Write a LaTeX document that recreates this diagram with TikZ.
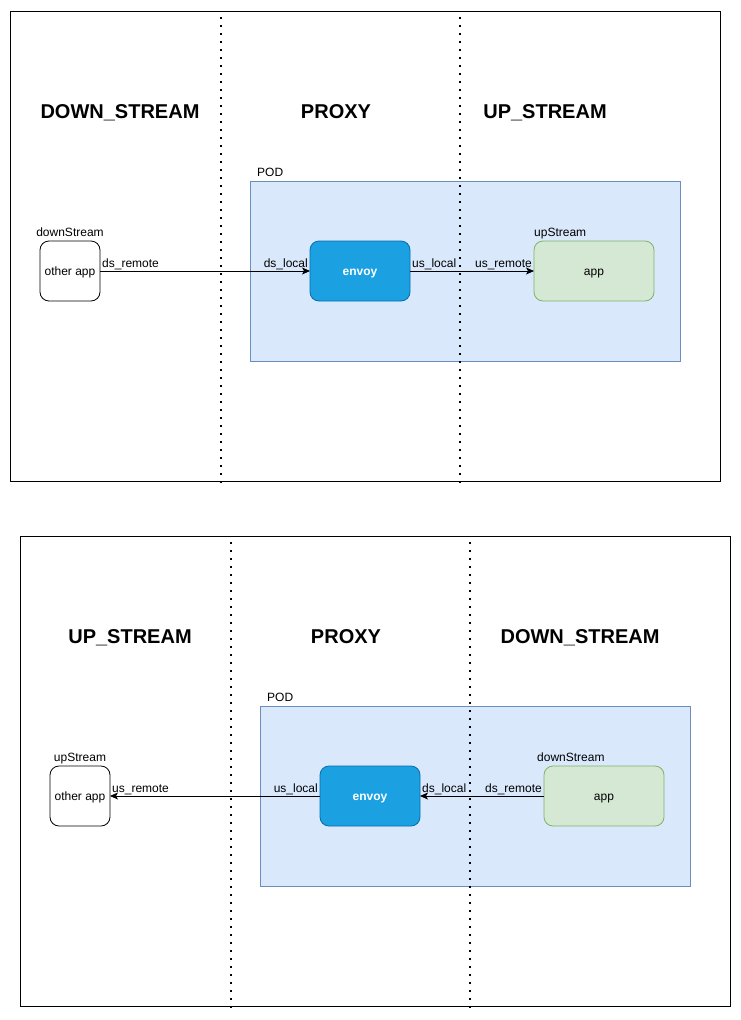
\documentclass[tikz,border=0pt]{standalone}
\usepackage{fontspec}
\setmainfont{Liberation Sans}
\usetikzlibrary{arrows.meta}
\definecolor{podfill}{HTML}{DAE8FC}
\definecolor{podline}{HTML}{6C8EBF}
\definecolor{envfill}{HTML}{1BA1E2}
\definecolor{envline}{HTML}{006EAF}
\definecolor{appfill}{HTML}{D5E8D4}
\definecolor{appline}{HTML}{82B366}
\tikzset{
  frame/.style={draw=black, line width=1pt, minimum width=710pt, minimum height=470pt, inner sep=0pt, outer sep=0pt},
  sep/.style={line width=1.6pt, dash pattern=on 1.6pt off 6.4pt, black},
  head/.style={font=\fontsize{20}{24}\selectfont\bfseries, inner sep=0pt, anchor=base},
  lbl/.style={font=\fontsize{12}{14}\selectfont, inner sep=0pt},
  boxtext/.style={text height=9pt, text depth=0pt, font=\fontsize{12}{14}\selectfont},
  pod/.style={draw=podline, fill=podfill, line width=0.8pt, minimum width=430pt, minimum height=180pt, inner sep=0pt, outer sep=0pt},
  envoybox/.style={boxtext, draw=envline, fill=envfill, line width=0.8pt, rounded corners=9pt, minimum width=100pt, minimum height=60pt, inner sep=0pt, outer sep=0pt, text=white, font=\fontsize{12}{14}\selectfont\bfseries},
  appbox/.style={boxtext, draw=appline, fill=appfill, line width=0.8pt, rounded corners=9pt, minimum width=120pt, minimum height=60pt, inner sep=0pt, outer sep=0pt},
  otherbox/.style={boxtext, draw=black, fill=white, line width=0.8pt, rounded corners=9pt, minimum width=60pt, minimum height=60pt, inner sep=0pt, outer sep=0pt},
  conn/.style={line width=0.8pt, -{Stealth[length=8pt,width=7pt,inset=2pt]}},
}
\begin{document}
\begin{tikzpicture}[x=1pt,y=-1pt]
\useasboundingbox (0,0) rectangle (741,1020);
%%% Top diagram
\node[frame] (f1) at (365,246) {};
\node[head] (h1a) at (120,118) {DOWN\_STREAM};
\node[head] (h1b) at (336,118) {PROXY};
\node[head] (h1c) at (545,118) {UP\_STREAM};
\node[pod] (pod1) at (465,271) {};
\node[lbl, anchor=base west] (pod1l) at (257,176) {POD};
\coordinate (s1a) at (221,17); \coordinate (s1b) at (221,483);
\coordinate (s1c) at (460,17); \coordinate (s1d) at (460,483);
\draw[sep] (s1a) -- (s1b);
\draw[sep] (s1c) -- (s1d);
\node[otherbox] (oa1) at (70,271) {other app};
\node[lbl, anchor=base] (oa1l) at (70,236) {downStream};
\node[envoybox] (env1) at (360,271) {envoy};
\node[appbox] (app1) at (594,271) {app};
\node[lbl, anchor=base west] (app1l) at (534,236) {upStream};
\draw[conn] (oa1.east) -- (env1.west);
\draw[conn] (env1.east) -- (app1.west);
\node[lbl, anchor=base west] (e1a) at (102,267) {ds\_remote};
\node[lbl, anchor=base east] (e1b) at (308,267) {ds\_local};
\node[lbl, anchor=base west] (e1c) at (412,267) {us\_local};
\node[lbl, anchor=base east] (e1d) at (532,267) {us\_remote};
%%% Bottom diagram
\node[frame] (f2) at (375,771) {};
\node[head] (h2a) at (130,643) {UP\_STREAM};
\node[head] (h2b) at (346,643) {PROXY};
\node[head] (h2c) at (580,643) {DOWN\_STREAM};
\node[pod] (pod2) at (475,796) {};
\node[lbl, anchor=base west] (pod2l) at (267,701) {POD};
\coordinate (s2a) at (231,542); \coordinate (s2b) at (231,1008);
\coordinate (s2c) at (470,542); \coordinate (s2d) at (470,1008);
\draw[sep] (s2a) -- (s2b);
\draw[sep] (s2c) -- (s2d);
\node[otherbox] (oa2) at (80,796) {other app};
\node[lbl, anchor=base] (oa2l) at (80,761) {upStream};
\node[envoybox] (env2) at (370,796) {envoy};
\node[appbox] (app2) at (604,796) {app};
\node[lbl, anchor=base west] (app2l) at (537,761) {downStream};
\draw[conn] (app2.west) -- (env2.east);
\draw[conn] (env2.west) -- (oa2.east);
\node[lbl, anchor=base west] (e2a) at (112,792) {us\_remote};
\node[lbl, anchor=base east] (e2b) at (318,792) {us\_local};
\node[lbl, anchor=base west] (e2c) at (422,792) {ds\_local};
\node[lbl, anchor=base east] (e2d) at (542,792) {ds\_remote};
\end{tikzpicture}
\end{document}
